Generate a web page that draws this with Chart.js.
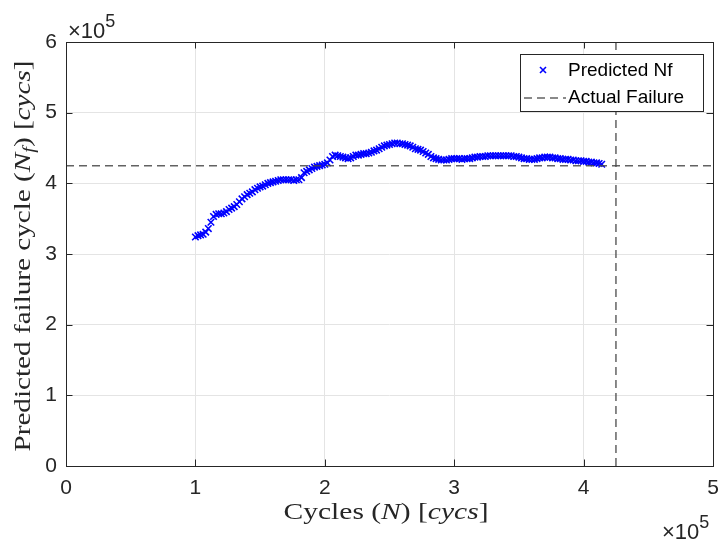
<!DOCTYPE html>
<html>
<head>
<meta charset="utf-8">
<script src="https://cdn.jsdelivr.net/npm/chart.js@4/dist/chart.umd.min.js"></script>
<style>
  html, body { margin: 0; padding: 0; background: #fff; }
  #wrap { width: 721px; height: 542px; position: relative; }
</style>
</head>
<body>
<div id="wrap"><canvas id="c" width="721" height="542"></canvas></div>
<script>
// Cycles N (units of 1e5)
const cyclesE5 = [
  1.00,1.02,1.04,1.06,1.08,1.10,1.12,1.14,1.16,1.18,
  1.20,1.22,1.24,1.26,1.28,1.30,1.32,1.34,1.36,1.38,
  1.40,1.42,1.44,1.46,1.48,1.50,1.52,1.54,1.56,1.58,
  1.60,1.62,1.64,1.66,1.68,1.70,1.72,1.74,1.76,1.78,
  1.80,1.82,1.84,1.86,1.88,1.90,1.92,1.94,1.96,1.98,
  2.00,2.02,2.04,2.06,2.08,2.10,2.12,2.14,2.16,2.18,
  2.20,2.22,2.24,2.26,2.28,2.30,2.32,2.34,2.36,2.38,
  2.40,2.42,2.44,2.46,2.48,2.50,2.52,2.54,2.56,2.58,
  2.60,2.62,2.64,2.66,2.68,2.70,2.72,2.74,2.76,2.78,
  2.80,2.82,2.84,2.86,2.88,2.90,2.92,2.94,2.96,2.98,
  3.00,3.02,3.04,3.06,3.08,3.10,3.12,3.14,3.16,3.18,
  3.20,3.22,3.24,3.26,3.28,3.30,3.32,3.34,3.36,3.38,
  3.40,3.42,3.44,3.46,3.48,3.50,3.52,3.54,3.56,3.58,
  3.60,3.62,3.64,3.66,3.68,3.70,3.72,3.74,3.76,3.78,
  3.80,3.82,3.84,3.86,3.88,3.90,3.92,3.94,3.96,3.98,
  4.00,4.02,4.04,4.06,4.08,4.10,4.12,4.14
];
// Predicted failure cycle Nf (units of 1e5)
const predictedNfE5 = [
  3.24,3.26,3.27,3.28,3.31,3.36,3.45,3.53,3.56,3.57,
  3.57,3.58,3.60,3.63,3.65,3.67,3.70,3.74,3.78,3.81,
  3.84,3.86,3.88,3.91,3.93,3.95,3.96,3.98,4.00,4.01,
  4.02,4.03,4.04,4.05,4.05,4.05,4.05,4.05,4.04,4.05,
  4.05,4.08,4.15,4.17,4.19,4.21,4.23,4.24,4.25,4.26,
  4.27,4.29,4.33,4.38,4.40,4.39,4.38,4.37,4.36,4.35,
  4.36,4.38,4.40,4.40,4.41,4.42,4.42,4.43,4.44,4.46,
  4.47,4.49,4.51,4.53,4.54,4.55,4.56,4.57,4.57,4.56,
  4.56,4.55,4.54,4.53,4.51,4.49,4.48,4.47,4.45,4.43,
  4.41,4.38,4.36,4.35,4.34,4.33,4.33,4.33,4.34,4.35,
  4.35,4.35,4.35,4.34,4.35,4.35,4.35,4.36,4.37,4.37,
  4.38,4.38,4.38,4.39,4.39,4.39,4.39,4.39,4.39,4.39,
  4.39,4.39,4.39,4.38,4.38,4.37,4.36,4.35,4.35,4.34,
  4.34,4.34,4.35,4.36,4.36,4.37,4.37,4.37,4.36,4.36,
  4.35,4.35,4.34,4.34,4.34,4.33,4.33,4.32,4.32,4.32,
  4.31,4.31,4.30,4.30,4.29,4.29,4.28,4.27
];
// Actual failure cycle (units of 1e5)
const actualFailureE5 = 4.25;
const xTicks = [0, 1, 2, 3, 4, 5];
const yTicks = [0, 1, 2, 3, 4, 5, 6];
const legendLabels = ["Predicted Nf", "Actual Failure"];

const TEXT = '#262626';
const SANS = '"Liberation Sans", Arial, Helvetica, sans-serif';
const SERIF = '"Liberation Serif", "Times New Roman", serif';
const DASH_COLOR = 'rgba(70,70,70,0.85)';
const MARK = '#0000ff';

const scatterData = cyclesE5.map((x, i) => ({ x: x, y: predictedNfE5[i] }));

function drawRich(ctx, parts, cx, y, targetWidth) {
  let total = 0;
  parts.forEach(p => { ctx.font = (p.style || '') + ' ' + p.size + 'px ' + SERIF; p.w = ctx.measureText(p.t).width; total += p.w; });
  const sx = targetWidth / total;
  ctx.save();
  ctx.translate(cx - targetWidth / 2, y);
  ctx.scale(sx, 1);
  let x = 0;
  parts.forEach(p => {
    ctx.font = (p.style || '') + ' ' + p.size + 'px ' + SERIF;
    ctx.fillText(p.t, x, p.dy || 0);
    x += p.w;
  });
  ctx.restore();
}

const decor = {
  id: 'decor',
  afterDraw(chart) {
    const ctx = chart.ctx;
    const a = chart.chartArea;
    const xs = chart.scales.x, ys = chart.scales.y;
    ctx.save();
    ctx.strokeStyle = TEXT;
    ctx.lineWidth = 1;
    ctx.strokeRect(Math.round(a.left) + 0.5, Math.round(a.top) + 0.5, Math.round(a.right - a.left), Math.round(a.bottom - a.top));
    const tl = 6.5;
    ctx.beginPath();
    xTicks.forEach(v => {
      const px = Math.round(xs.getPixelForValue(v)) + 0.5;
      ctx.moveTo(px, a.bottom); ctx.lineTo(px, a.bottom - tl);
      ctx.moveTo(px, a.top); ctx.lineTo(px, a.top + tl);
    });
    yTicks.forEach(v => {
      const py = Math.round(ys.getPixelForValue(v)) + 0.5;
      ctx.moveTo(a.left, py); ctx.lineTo(a.left + tl, py);
      ctx.moveTo(a.right, py); ctx.lineTo(a.right - tl, py);
    });
    ctx.stroke();

    ctx.fillStyle = TEXT;
    ctx.textBaseline = 'alphabetic';
    ctx.textAlign = 'left';
    function expo(x, y) {
      ctx.font = '22px ' + SANS;
      ctx.fillText('\u00d710', x, y);
      const w = ctx.measureText('\u00d710').width;
      ctx.font = '18px ' + SANS;
      ctx.fillText('5', x + w, y - 11);
    }
    expo(a.left + 2, a.top - 4);
    expo(a.right - 51, 539);

    drawRich(ctx, [
      { t: 'Cycles (', size: 23 },
      { t: 'N', style: 'italic', size: 23 },
      { t: ') [', size: 23 },
      { t: 'cycs', style: 'italic', size: 23 },
      { t: ']', size: 23 }
    ], 386, 519, 205);

    ctx.save();
    ctx.translate(30, 256);
    ctx.rotate(-Math.PI / 2);
    drawRich(ctx, [
      { t: 'Predicted failure cycle (', size: 23 },
      { t: 'N', style: 'italic', size: 23 },
      { t: 'f', style: 'italic', size: 16, dy: 4 },
      { t: ') [', size: 23 },
      { t: 'cycs', style: 'italic', size: 23 },
      { t: ']', size: 23 }
    ], 0, 0, 391);
    ctx.restore();

    const lx = 520, ly = 54, lw = 183, lh = 57;
    ctx.fillStyle = '#fff';
    ctx.fillRect(lx, ly, lw, lh);
    ctx.strokeStyle = TEXT;
    ctx.lineWidth = 1;
    ctx.strokeRect(lx + 0.5, ly + 0.5, lw, lh);
    ctx.strokeStyle = MARK;
    ctx.lineWidth = 1.6;
    ctx.beginPath();
    const mx = 543, my = 70, r = 3;
    ctx.moveTo(mx - r, my - r); ctx.lineTo(mx + r, my + r);
    ctx.moveTo(mx - r, my + r); ctx.lineTo(mx + r, my - r);
    ctx.stroke();
    ctx.strokeStyle = DASH_COLOR;
    ctx.lineWidth = 1.5;
    ctx.setLineDash([8, 5]);
    ctx.beginPath();
    ctx.moveTo(524, 98); ctx.lineTo(566, 98);
    ctx.stroke();
    ctx.setLineDash([]);
    ctx.fillStyle = '#000';
    ctx.font = '19px ' + SANS;
    ctx.textBaseline = 'middle';
    ctx.fillText(legendLabels[0], 568, 71);
    ctx.fillText(legendLabels[1], 568, 98);
    ctx.restore();
  }
};

new Chart(document.getElementById('c'), {
  type: 'scatter',
  data: {
    datasets: [
      {
        label: legendLabels[0],
        data: scatterData,
        pointStyle: 'crossRot',
        pointRadius: 4.6,
        pointBorderWidth: 1.6,
        borderColor: MARK,
        backgroundColor: MARK,
        showLine: false,
        order: 2
      },
      {
        label: legendLabels[1],
        type: 'line',
        data: [{ x: 0, y: actualFailureE5 }, { x: 5, y: actualFailureE5 }],
        borderColor: DASH_COLOR,
        borderWidth: 1.5,
        borderDash: [8, 5],
        pointRadius: 0,
        fill: false,
        order: 1
      },
      {
        label: legendLabels[1] + ' (N)',
        type: 'line',
        data: [{ x: actualFailureE5, y: 0 }, { x: actualFailureE5, y: 6 }],
        borderColor: DASH_COLOR,
        borderWidth: 1.5,
        borderDash: [8, 5],
        pointRadius: 0,
        fill: false,
        order: 1
      }
    ]
  },
  options: {
    responsive: false,
    animation: false,
    devicePixelRatio: 1,
    layout: { padding: { top: 42, right: 8, left: 0, bottom: 0 } },
    plugins: { legend: { display: false }, tooltip: { enabled: false } },
    scales: {
      x: {
        type: 'linear', min: 0, max: 5,
        afterBuildTicks(s) { s.ticks = xTicks.map(v => ({ value: v })); },
        afterFit(s) { s.height = 76; s.paddingLeft = 0; s.paddingRight = 0; },
        grid: { color: '#e4e4e4', lineWidth: 1, drawTicks: false },
        border: { display: false },
        ticks: { color: TEXT, font: { family: SANS, size: 21 }, padding: 10, maxRotation: 0 }
      },
      y: {
        type: 'linear', min: 0, max: 6,
        afterBuildTicks(s) { s.ticks = yTicks.map(v => ({ value: v })); },
        afterFit(s) { s.width = 66; s.paddingTop = 0; s.paddingBottom = 0; },
        grid: { color: '#e4e4e4', lineWidth: 1, drawTicks: false },
        border: { display: false },
        ticks: { color: TEXT, font: { family: SANS, size: 21 }, padding: 9 }
      }
    }
  },
  plugins: [decor]
});
</script>
</body>
</html>
